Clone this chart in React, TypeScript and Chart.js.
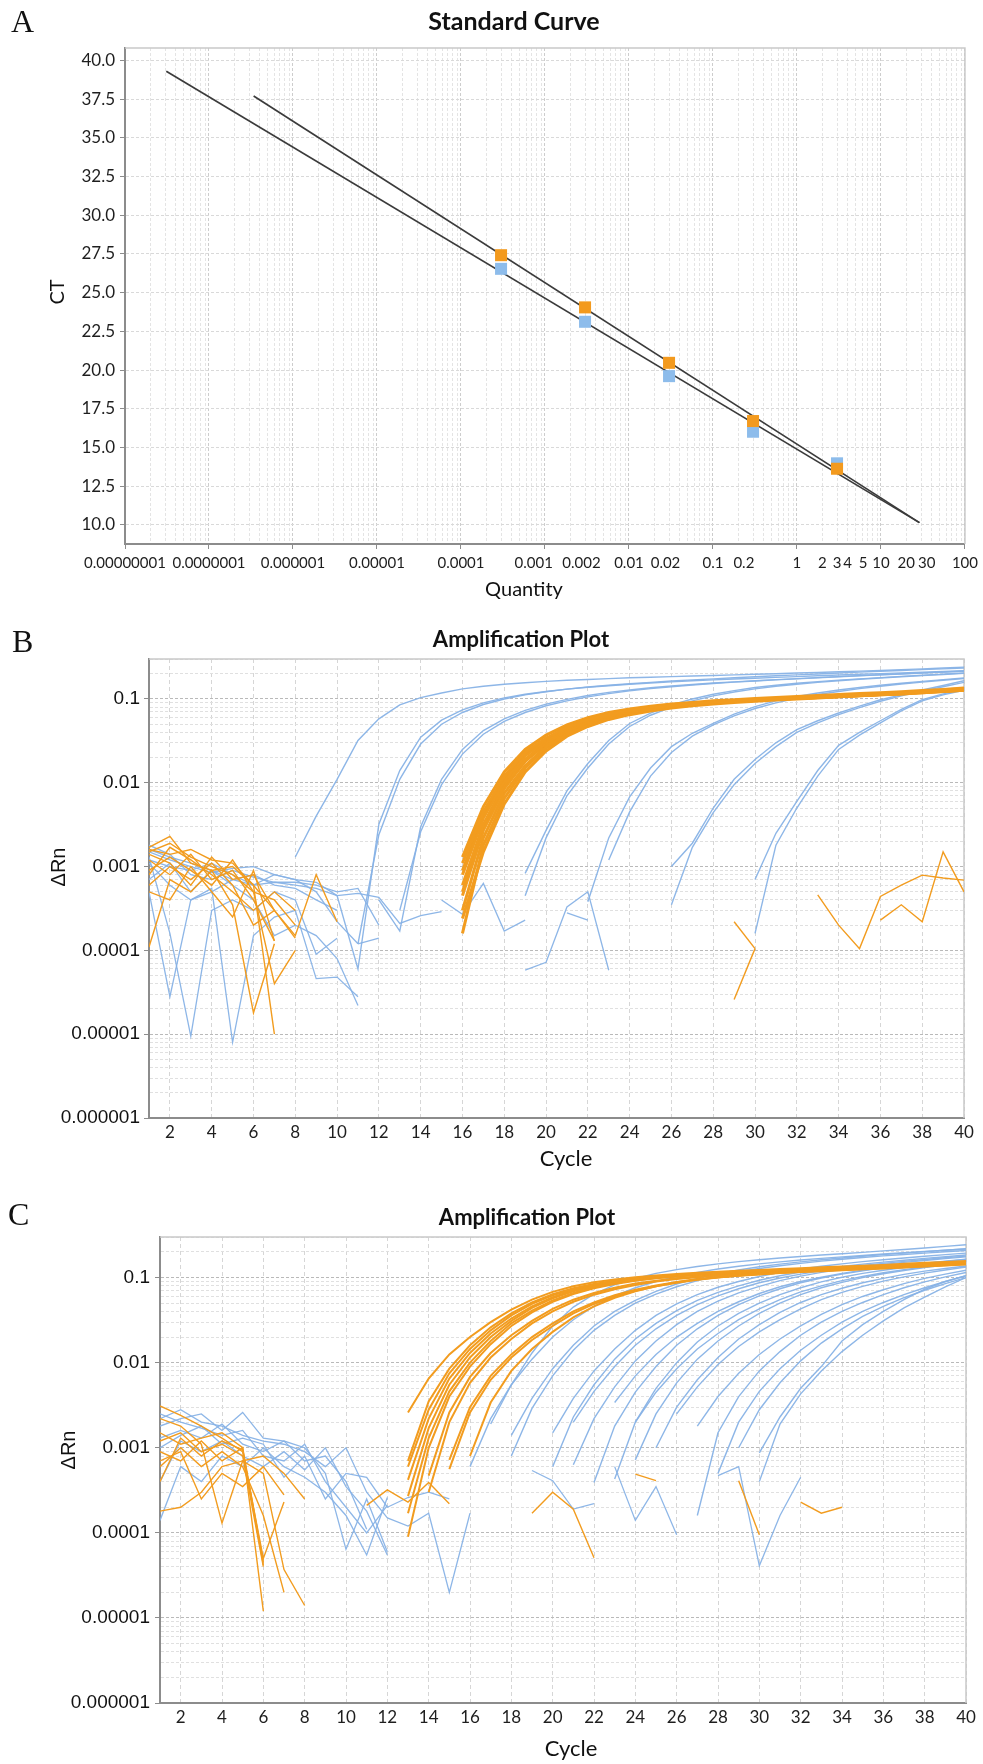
import React, { useEffect, useRef } from 'react';
import { Chart, registerables } from 'chart.js';

Chart.register(...registerables);

// ---------------- Panel A : Standard Curve ----------------
const stdQuantity = [0.0003, 0.003, 0.03, 0.3, 3];
const ctBlue = [26.54, 23.12, 19.61, 16.02, 13.98];
const ctOrange = [27.42, 24.05, 20.47, 16.71, 13.63];
const fitBlueQ = [3.1e-8, 28.7];
const fitBlueCT = [39.3, 10.15];
const fitOrangeQ = [3.4e-7, 28.7];
const fitOrangeCT = [37.7, 10.15];
const ctTicks = [10, 12.5, 15, 17.5, 20, 22.5, 25, 27.5, 30, 32.5, 35, 37.5, 40];
const quantityDecades = [-8, -7, -6, -5, -4, -3, -2, -1, 0, 1, 2];
const quantityLabelValues = [1e-8, 1e-7, 1e-6, 1e-5, 1e-4, 1e-3, 2e-3, 1e-2, 2e-2, 0.1, 0.2, 1, 2, 3, 4, 5, 10, 20, 30, 100];
const quantityLabels = ['0.00000001', '0.0000001', '0.000001', '0.00001', '0.0001', '0.001', '0.002', '0.01', '0.02', '0.1', '0.2', '1', '2', '3', '4', '5', '10', '20', '30', '100'];

// ---------------- Panels B / C : Amplification Plots ----------------
const cycleTicks = [2, 4, 6, 8, 10, 12, 14, 16, 18, 20, 22, 24, 26, 28, 30, 32, 34, 36, 38, 40];
const deltaRnDecades = [-6, -5, -4, -3, -2, -1];
const deltaRnLabelValues = [0.1, 0.01, 0.001, 0.0001, 0.00001, 0.000001];
const deltaRnLabels = ['0.1', '0.01', '0.001', '0.0001', '0.00001', '0.000001'];

// Panel B – blue amplification curves (first cycle, then ΔRn per cycle)
const bBlueStart = [8, 10, 11, 12, 13, 19, 19, 22, 23, 26, 26, 30, 30];
const bBlue = [
  [1.3e-3, 4.0e-3, 0.011, 0.032, 0.058, 0.085, 0.104, 0.118, 0.132, 0.142, 0.15, 0.156, 0.162, 0.167, 0.171, 0.175, 0.179, 0.182, 0.185, 0.188, 0.191, 0.194, 0.197, 0.2, 0.204, 0.207, 0.211, 0.215, 0.219, 0.224, 0.229, 0.234, 0.24],
  [4.5e-4, 6e-5, 3.2e-3, 0.014, 0.035, 0.056, 0.074, 0.09, 0.103, 0.114, 0.123, 0.131, 0.138, 0.144, 0.15, 0.155, 0.16, 0.165, 0.169, 0.173, 0.177, 0.181, 0.185, 0.189, 0.193, 0.197, 0.201, 0.205, 0.209, 0.213, 0.217],
  [1.2e-4, 2.4e-3, 0.011, 0.029, 0.05, 0.069, 0.086, 0.1, 0.112, 0.122, 0.131, 0.139, 0.146, 0.152, 0.158, 0.164, 0.169, 0.174, 0.179, 0.184, 0.189, 0.194, 0.199, 0.204, 0.209, 0.214, 0.219, 0.224, 0.229, 0.234],
  [4e-4, 1.7e-4, 3e-3, 0.011, 0.025, 0.042, 0.058, 0.073, 0.087, 0.099, 0.11, 0.12, 0.128, 0.136, 0.143, 0.149, 0.155, 0.16, 0.165, 0.17, 0.175, 0.18, 0.185, 0.19, 0.195, 0.2, 0.205, 0.21, 0.215],
  [3e-4, 2.6e-3, 9.5e-3, 0.022, 0.038, 0.054, 0.069, 0.083, 0.095, 0.106, 0.116, 0.125, 0.133, 0.14, 0.147, 0.153, 0.159, 0.164, 0.169, 0.174, 0.179, 0.184, 0.189, 0.194, 0.199, 0.204, 0.209, 0.214],
  [8.3e-4, 2.7e-3, 8e-3, 0.017, 0.032, 0.051, 0.068, 0.085, 0.1, 0.114, 0.126, 0.137, 0.146, 0.154, 0.161, 0.168, 0.174, 0.18, 0.186, 0.192, 0.198, 0.204],
  [4.5e-4, 2.2e-3, 7e-3, 0.015, 0.029, 0.047, 0.064, 0.08, 0.095, 0.109, 0.121, 0.132, 0.142, 0.15, 0.158, 0.165, 0.172, 0.178, 0.184, 0.19, 0.196, 0.202],
  [3.8e-4, 2.2e-3, 6.8e-3, 0.015, 0.027, 0.039, 0.051, 0.066, 0.081, 0.095, 0.107, 0.118, 0.128, 0.137, 0.146, 0.154, 0.162, 0.17, 0.178],
  [1.2e-3, 4.5e-3, 0.012, 0.023, 0.036, 0.049, 0.063, 0.077, 0.09, 0.102, 0.113, 0.123, 0.133, 0.142, 0.151, 0.159, 0.167, 0.175],
  [1e-3, 1.9e-3, 5e-3, 0.011, 0.019, 0.03, 0.043, 0.055, 0.068, 0.082, 0.098, 0.112, 0.128, 0.145, 0.165],
  [3.5e-4, 1.7e-3, 4.4e-3, 9.5e-3, 0.017, 0.027, 0.04, 0.052, 0.065, 0.079, 0.094, 0.109, 0.124, 0.14, 0.158],
  [7e-4, 2.5e-3, 6e-3, 0.014, 0.028, 0.04, 0.055, 0.075, 0.098, 0.115, 0.13],
  [1.6e-4, 1.8e-3, 5e-3, 0.012, 0.025, 0.037, 0.052, 0.072, 0.095, 0.112, 0.127],
];

// Panel B – orange amplification curves (all from cycle 16)
const bOrangeStart = [16, 16, 16, 16, 16, 16, 16, 16, 16, 16];
const bOrange = [
  [1.1e-3, 4.5e-3, 0.012, 0.023, 0.034, 0.046, 0.057, 0.066, 0.073, 0.079, 0.084, 0.088, 0.092, 0.095, 0.098, 0.1, 0.103, 0.105, 0.108, 0.111, 0.114, 0.118, 0.122, 0.126, 0.131],
  [8e-4, 3.8e-3, 0.0105, 0.021, 0.032, 0.044, 0.055, 0.064, 0.071, 0.077, 0.082, 0.087, 0.091, 0.094, 0.097, 0.1, 0.102, 0.105, 0.107, 0.11, 0.113, 0.117, 0.121, 0.125, 0.13],
  [6e-4, 3.2e-3, 9.5e-3, 0.019, 0.03, 0.042, 0.053, 0.063, 0.07, 0.076, 0.082, 0.086, 0.09, 0.094, 0.097, 0.099, 0.102, 0.104, 0.107, 0.11, 0.113, 0.116, 0.12, 0.124, 0.128],
  [4.5e-4, 2.7e-3, 8.5e-3, 0.018, 0.029, 0.041, 0.052, 0.062, 0.07, 0.077, 0.083, 0.088, 0.092, 0.095, 0.098, 0.101, 0.104, 0.107, 0.11, 0.113, 0.116, 0.119, 0.123, 0.127, 0.132],
  [3e-4, 2.2e-3, 7.5e-3, 0.016, 0.027, 0.039, 0.05, 0.06, 0.068, 0.075, 0.081, 0.086, 0.09, 0.093, 0.096, 0.099, 0.101, 0.104, 0.106, 0.109, 0.112, 0.115, 0.119, 0.123, 0.127],
  [1.6e-4, 1.8e-3, 6.5e-3, 0.015, 0.026, 0.038, 0.049, 0.059, 0.067, 0.074, 0.08, 0.085, 0.089, 0.093, 0.096, 0.099, 0.102, 0.105, 0.108, 0.111, 0.114, 0.117, 0.121, 0.125, 0.13],
  [9e-4, 4e-3, 0.011, 0.022, 0.033, 0.045, 0.056, 0.065, 0.072, 0.078, 0.083, 0.087, 0.091, 0.095, 0.098, 0.101, 0.104, 0.107, 0.109, 0.112, 0.115, 0.119, 0.123, 0.128, 0.133],
  [5e-4, 2.9e-3, 9e-3, 0.0185, 0.0295, 0.0415, 0.0525, 0.062, 0.069, 0.076, 0.081, 0.086, 0.09, 0.093, 0.096, 0.099, 0.102, 0.104, 0.107, 0.11, 0.113, 0.116, 0.12, 0.124, 0.129],
  [2.4e-4, 1.5e-3, 5.6e-3, 0.0135, 0.024, 0.036, 0.047, 0.057, 0.065, 0.072, 0.078, 0.083, 0.087, 0.091, 0.094, 0.097, 0.1, 0.103, 0.106, 0.109, 0.112, 0.115, 0.119, 0.123, 0.127],
  [1.3e-3, 5.2e-3, 0.0135, 0.025, 0.037, 0.049, 0.06, 0.069, 0.076, 0.082, 0.087, 0.091, 0.095, 0.098, 0.101, 0.104, 0.107, 0.11, 0.113, 0.116, 0.119, 0.122, 0.126, 0.13, 0.135],
];

// Panel B – background noise traces
const bBlueNoiseStart = [1, 1, 1, 1, 1, 1, 1, 15, 19, 21, 11, 1];
const bBlueNoise = [
  [1.5e-3, 1.2e-3, 1.0e-3, 8.5e-4, 9.5e-4, 1.0e-3, 8e-4, 7e-4, 6.5e-4, 4.5e-4],
  [1.8e-3, 1.4e-3, 8e-4, 7e-4, 9e-4, 7.5e-4, 6.5e-4, 6.5e-4, 6e-4, 5e-4, 5.5e-4, 2e-4],
  [1.1e-3, 6e-4, 4e-4, 5e-4, 7e-4, 6e-4, 8e-4, 7e-4, 5e-4, 2.2e-4, 1.2e-4],
  [1.3e-3, 1.6e-4, 9.5e-6, 3e-4, 4e-4, 3e-4, 5e-4, 4e-4, 9e-5, 1.4e-4],
  [5e-4, 2.8e-5, 4e-4, 5.5e-4, 8e-6, 1.5e-4, 2.5e-4, 3e-4, 4.6e-5, 4.8e-5, 2.8e-5],
  [1.2e-3, 1e-3, 9e-4, 1.1e-3, 8e-4, 6e-4, 6.5e-4, 6e-4, 5.5e-4, 4.5e-4, 4.8e-4, 4.3e-4, 2.1e-4, 2.6e-4, 2.9e-4],
  [7e-4, 1.1e-3, 5e-4, 9e-4, 6e-4, 4e-4, 1.5e-4, 2e-4, 1.5e-4, 8e-5, 2.2e-5],
  [4e-4, 2.7e-4, 6.3e-4, 1.7e-4, 2.3e-4],
  [5.8e-5, 7.2e-5, 3.3e-4, 5e-4, 5.8e-5],
  [2.8e-4, 2.3e-4],
  [1.2e-4, 1.4e-4],
  [1.6e-3, 1.3e-3, 1.1e-3, 9e-4, 7e-4, 8e-4, 6e-4, 5.5e-4, 4e-4, 3e-4],
];
const bOrangeNoiseStart = [1, 1, 1, 1, 1, 1, 1, 1, 1, 1, 29, 29, 33, 36];
const bOrangeNoise = [
  [1.5e-3, 1.9e-3, 1.3e-3, 1.0e-3, 8e-4, 5e-4, 4e-4, 2e-4],
  [1.7e-3, 2.3e-3, 1.1e-3, 9e-4, 1.0e-3, 6e-4, 3e-4],
  [1.2e-3, 8e-4, 1.4e-3, 7e-4, 9e-4, 4e-4, 1.3e-4],
  [6e-4, 1.0e-3, 7e-4, 1.1e-3, 6e-4, 2e-4, 3e-4, 1.4e-4],
  [1.1e-4, 7e-4, 5e-4, 9e-4, 3.5e-4, 1.8e-5, 1.2e-4],
  [9e-4, 1.3e-3, 9e-4, 6e-4, 1.2e-3, 5e-4, 4e-5, 1e-4],
  [1.4e-3, 1.1e-3, 6e-4, 1.3e-3, 7e-4, 8e-4, 3e-4, 1.5e-4, 8e-4, 2.2e-4],
  [5e-4, 4e-4, 1.0e-3, 5e-4, 2.5e-4, 9e-4, 1.3e-4],
  [1.6e-3, 1.4e-3, 1.6e-3, 1.2e-3, 1.1e-3, 6e-4, 1e-5],
  [8e-4, 1.7e-3, 1.2e-3, 8e-4, 5e-4, 3e-4, 5e-4, 3e-4],
  [2.2e-4, 1.05e-4],
  [2.6e-5, 1.05e-4],
  [4.6e-4, 2e-4, 1.05e-4, 4.4e-4, 6e-4, 7.9e-4, 7.3e-4, 6.9e-4],
  [2.3e-4, 3.5e-4, 2.2e-4, 1.5e-3, 5e-4],
];

// Panel C – orange amplification curves
const cOrangeStart = [13, 13, 13, 13, 13, 13, 13, 14, 14, 15, 15, 16];
const cOrange = [
  [2.6e-3, 6.5e-3, 0.0125, 0.02, 0.03, 0.042, 0.055, 0.068, 0.079, 0.088, 0.095, 0.101, 0.106, 0.11, 0.114, 0.117, 0.12, 0.123, 0.126, 0.129, 0.132, 0.135, 0.138, 0.141, 0.145, 0.149, 0.153, 0.157],
  [7e-4, 3.5e-3, 8.5e-3, 0.016, 0.026, 0.038, 0.051, 0.064, 0.075, 0.084, 0.092, 0.098, 0.103, 0.107, 0.111, 0.114, 0.117, 0.12, 0.123, 0.126, 0.129, 0.132, 0.135, 0.138, 0.141, 0.145, 0.149, 0.153],
  [6e-4, 2.8e-3, 7.5e-3, 0.0145, 0.024, 0.036, 0.049, 0.062, 0.073, 0.083, 0.091, 0.097, 0.102, 0.107, 0.111, 0.114, 0.117, 0.12, 0.123, 0.126, 0.129, 0.132, 0.135, 0.138, 0.141, 0.144, 0.148, 0.152],
  [4.2e-4, 2.2e-3, 6.5e-3, 0.013, 0.022, 0.033, 0.046, 0.059, 0.071, 0.081, 0.089, 0.096, 0.101, 0.106, 0.11, 0.113, 0.116, 0.119, 0.122, 0.125, 0.128, 0.131, 0.134, 0.137, 0.14, 0.143, 0.147, 0.151],
  [2.7e-4, 1.7e-3, 5.5e-3, 0.0115, 0.02, 0.031, 0.044, 0.057, 0.069, 0.079, 0.088, 0.095, 0.1, 0.105, 0.109, 0.112, 0.115, 0.118, 0.121, 0.124, 0.127, 0.13, 0.133, 0.136, 0.139, 0.142, 0.146, 0.15],
  [1.7e-4, 1.3e-3, 4.6e-3, 0.01, 0.018, 0.029, 0.041, 0.054, 0.066, 0.077, 0.086, 0.093, 0.099, 0.104, 0.108, 0.111, 0.114, 0.117, 0.12, 0.123, 0.126, 0.129, 0.132, 0.135, 0.138, 0.141, 0.145, 0.149],
  [9e-5, 1e-3, 4e-3, 9e-3, 0.0165, 0.027, 0.039, 0.052, 0.064, 0.075, 0.084, 0.092, 0.098, 0.103, 0.107, 0.11, 0.113, 0.116, 0.119, 0.122, 0.125, 0.128, 0.131, 0.134, 0.137, 0.14, 0.144, 0.148],
  [4.7e-4, 2.6e-3, 6.8e-3, 0.013, 0.021, 0.031, 0.043, 0.055, 0.066, 0.076, 0.085, 0.092, 0.098, 0.103, 0.107, 0.111, 0.114, 0.117, 0.12, 0.123, 0.126, 0.129, 0.132, 0.135, 0.139, 0.143, 0.147],
  [3e-4, 2e-3, 5.8e-3, 0.0115, 0.019, 0.029, 0.04, 0.052, 0.063, 0.073, 0.082, 0.09, 0.096, 0.101, 0.106, 0.11, 0.113, 0.116, 0.119, 0.122, 0.125, 0.128, 0.131, 0.134, 0.138, 0.142, 0.146],
  [7.2e-4, 3e-3, 7e-3, 0.0125, 0.02, 0.029, 0.04, 0.051, 0.062, 0.072, 0.081, 0.089, 0.096, 0.101, 0.106, 0.11, 0.114, 0.117, 0.12, 0.123, 0.126, 0.129, 0.132, 0.136, 0.14, 0.144],
  [5.6e-4, 2.6e-3, 6.3e-3, 0.0115, 0.0185, 0.027, 0.038, 0.049, 0.06, 0.07, 0.079, 0.087, 0.094, 0.1, 0.105, 0.109, 0.113, 0.116, 0.119, 0.122, 0.125, 0.128, 0.131, 0.135, 0.139, 0.143],
  [8e-4, 3.4e-3, 8e-3, 0.0145, 0.023, 0.034, 0.046, 0.058, 0.069, 0.079, 0.088, 0.095, 0.101, 0.106, 0.11, 0.114, 0.118, 0.121, 0.124, 0.127, 0.131, 0.135, 0.139, 0.143, 0.147],
];

// Panel C – blue amplification curves
const cBlueStart = [16, 17, 18, 18, 20, 20, 21, 21, 22, 23, 23, 24, 24, 25, 26, 27, 27, 28, 29, 30, 30];
const cBlue = [
  [6e-4, 2.2e-3, 5.5e-3, 0.011, 0.02, 0.032, 0.046, 0.061, 0.076, 0.09, 0.103, 0.115, 0.126, 0.136, 0.145, 0.153, 0.161, 0.168, 0.175, 0.182, 0.189, 0.196, 0.203, 0.21, 0.217],
  [1.9e-3, 5.5e-3, 0.013, 0.027, 0.045, 0.064, 0.082, 0.098, 0.112, 0.124, 0.135, 0.145, 0.154, 0.162, 0.17, 0.177, 0.184, 0.191, 0.198, 0.206, 0.214, 0.223, 0.233, 0.243],
  [1.4e-3, 3.8e-3, 8.5e-3, 0.016, 0.027, 0.04, 0.054, 0.069, 0.084, 0.098, 0.111, 0.123, 0.134, 0.144, 0.153, 0.162, 0.17, 0.178, 0.186, 0.194, 0.202, 0.21, 0.218],
  [8e-4, 2.9e-3, 7e-3, 0.014, 0.024, 0.036, 0.05, 0.064, 0.078, 0.092, 0.105, 0.117, 0.128, 0.138, 0.147, 0.156, 0.164, 0.172, 0.18, 0.187, 0.194, 0.201, 0.208],
  [6e-4, 2.3e-3, 5.5e-3, 0.011, 0.019, 0.029, 0.041, 0.054, 0.067, 0.08, 0.093, 0.105, 0.116, 0.126, 0.135, 0.144, 0.152, 0.16, 0.168, 0.176, 0.184],
  [1.5e-3, 3.8e-3, 8e-3, 0.0145, 0.024, 0.036, 0.049, 0.063, 0.077, 0.09, 0.103, 0.115, 0.126, 0.136, 0.145, 0.154, 0.162, 0.17, 0.178, 0.186, 0.194],
  [6.3e-4, 2.2e-3, 5.2e-3, 0.0105, 0.018, 0.028, 0.04, 0.053, 0.066, 0.079, 0.092, 0.104, 0.115, 0.125, 0.134, 0.143, 0.151, 0.159, 0.167, 0.175],
  [2e-3, 4.6e-3, 9e-3, 0.016, 0.025, 0.036, 0.048, 0.061, 0.074, 0.087, 0.099, 0.11, 0.12, 0.13, 0.139, 0.147, 0.155, 0.163, 0.171, 0.179],
  [3.9e-4, 1.8e-3, 4.5e-3, 9e-3, 0.016, 0.025, 0.036, 0.048, 0.061, 0.074, 0.087, 0.099, 0.11, 0.12, 0.13, 0.139, 0.147, 0.155, 0.163],
  [4.3e-4, 2e-3, 5e-3, 0.01, 0.0175, 0.027, 0.038, 0.05, 0.063, 0.076, 0.089, 0.101, 0.112, 0.122, 0.131, 0.14, 0.148, 0.156],
  [3.4e-3, 7e-3, 0.0125, 0.02, 0.029, 0.04, 0.052, 0.065, 0.078, 0.09, 0.101, 0.112, 0.122, 0.131, 0.14, 0.148, 0.156, 0.164],
  [7.2e-4, 2.5e-3, 5.8e-3, 0.011, 0.018, 0.027, 0.038, 0.05, 0.063, 0.076, 0.088, 0.1, 0.111, 0.121, 0.131, 0.14, 0.148],
  [2e-3, 4.5e-3, 8.5e-3, 0.0145, 0.022, 0.032, 0.043, 0.055, 0.068, 0.08, 0.092, 0.103, 0.114, 0.124, 0.133, 0.142, 0.15],
  [1e-3, 3e-3, 6.3e-3, 0.0115, 0.019, 0.028, 0.039, 0.051, 0.063, 0.075, 0.087, 0.098, 0.109, 0.119, 0.128, 0.137],
  [2.5e-3, 5.2e-3, 9.5e-3, 0.0155, 0.023, 0.032, 0.043, 0.055, 0.067, 0.079, 0.091, 0.102, 0.113, 0.123, 0.133],
  [1.8e-3, 4e-3, 7.5e-3, 0.0125, 0.019, 0.027, 0.037, 0.048, 0.06, 0.072, 0.085, 0.098, 0.11, 0.122],
  [1.6e-4, 1.5e-3, 4e-3, 8e-3, 0.0135, 0.021, 0.03, 0.04, 0.051, 0.063, 0.076, 0.089, 0.102, 0.115],
  [5e-4, 2e-3, 4.6e-3, 8.5e-3, 0.014, 0.021, 0.03, 0.04, 0.051, 0.063, 0.076, 0.09, 0.105],
  [1e-3, 2.8e-3, 5.8e-3, 0.0105, 0.017, 0.025, 0.035, 0.046, 0.058, 0.071, 0.085, 0.1],
  [8.7e-4, 2.3e-3, 5e-3, 9e-3, 0.018, 0.028, 0.04, 0.055, 0.073, 0.09, 0.105],
  [4e-4, 1.9e-3, 4.3e-3, 8e-3, 0.0135, 0.021, 0.031, 0.044, 0.059, 0.078, 0.1],
];

// Panel C – background noise traces
const cBlueNoiseStart = [1, 1, 1, 1, 1, 1, 1, 12, 19, 23, 28];
const cBlueNoise = [
  [2.2e-3, 2.8e-3, 2e-3, 1.8e-3, 1.4e-3, 1.2e-3, 1.1e-3, 9e-4, 6e-4, 1e-3, 3e-4, 1.5e-4],
  [1.8e-3, 2.2e-3, 2.5e-3, 1.6e-3, 2.6e-3, 1.3e-3, 1.2e-3, 7e-4, 8e-4, 4e-4, 1.1e-4],
  [1.3e-3, 1.6e-3, 1.3e-3, 1.9e-3, 1.1e-3, 9e-4, 1.2e-3, 1e-3, 5e-4, 6.4e-5, 2.5e-4, 6e-5],
  [1.4e-4, 6e-4, 4e-4, 8e-4, 6e-4, 1e-3, 6e-4, 4.5e-4, 3e-4, 1.6e-4, 5.5e-5, 2.6e-4],
  [2.5e-3, 2e-3, 1.7e-3, 1.4e-3, 1.6e-3, 8e-4, 7e-4, 1.1e-3, 4e-4, 2e-4, 1e-4, 2.1e-4],
  [4e-4, 1.2e-3, 9e-4, 1.2e-3, 8e-4, 6e-4, 9e-4, 5.5e-4, 1e-3, 3.5e-4, 1.8e-4, 5.5e-5],
  [1e-3, 1.4e-3, 1.8e-3, 1.1e-3, 1.3e-3, 1.1e-3, 4.5e-4, 8e-4, 2.5e-4, 5e-4, 4.5e-4, 2e-4, 2.6e-4, 3e-4, 2.5e-4],
  [1.5e-4, 1.2e-4, 1.7e-4, 2e-5, 1.7e-4],
  [5.4e-4, 4.1e-4, 1.9e-4, 2.2e-4],
  [6e-4, 1.4e-4, 3.5e-4, 9.5e-5],
  [4.7e-4, 6e-4, 4.1e-5, 1.6e-4, 4.5e-4],
];
const cOrangeNoiseStart = [1, 1, 1, 1, 1, 1, 1, 1, 1, 11, 19, 24, 29, 32];
const cOrangeNoise = [
  [3.1e-3, 2.4e-3, 1.8e-3, 1.3e-3, 9e-4, 5e-5, 2.3e-4],
  [1.2e-3, 1.5e-3, 9e-4, 1.1e-3, 8e-4, 4e-5],
  [9e-4, 7e-4, 1.2e-3, 7e-4, 1e-3, 1.2e-5],
  [6e-4, 1e-3, 6e-4, 9e-4, 6e-4, 1.6e-4, 2e-5],
  [1.8e-4, 2e-4, 3e-4, 6e-4, 7e-4, 5e-4, 3.7e-5, 1.4e-5],
  [1.5e-3, 1.1e-3, 1.3e-3, 1.5e-3, 1e-3, 4.5e-5],
  [2.2e-3, 1.8e-3, 1.1e-3, 1.3e-4, 7e-4, 8e-4, 5e-4, 2.5e-4],
  [7e-4, 9e-4, 2.5e-4, 5e-4, 3.5e-4, 6e-4, 2.8e-4],
  [4e-4, 1.3e-3, 8e-4, 1.2e-3, 9.5e-4, 4.2e-5],
  [2.1e-4, 3.2e-4, 2.3e-4, 3.9e-4, 2.2e-4],
  [1.7e-4, 3e-4, 1.9e-4, 5.1e-5],
  [4.9e-4, 4.1e-4],
  [4.1e-4, 9.5e-5],
  [2.3e-4, 1.7e-4, 2e-4],
];

// ---------------- styling ----------------
const BLUE = 'rgba(135,178,230,0.95)';
const ORANGE = '#F29C1F';
const BLUE_MARK = '#8DBCEB';
const ORANGE_MARK = '#F39A1E';
const AXIS = '#8c8c8c';
const EM = '\u2003';
const EN = '\u2002';

const isDecade = (v: number) => {
  const l = Math.log10(v);
  return Math.abs(l - Math.round(l)) < 1e-6;
};
const sameValue = (a: number, b: number) => Math.abs(Math.log10(a) - Math.log10(b)) < 1e-6;

function logGrid(decades: number[], maxValue: number) {
  const out: number[] = [];
  decades.forEach((d) => {
    for (let m = 1; m <= 9; m++) {
      const v = m * Math.pow(10, d);
      if (v <= maxValue * 1.0000001) out.push(v);
    }
  });
  return out;
}

const textPlugin = {
  id: 'panelText',
  afterDraw(chart: any, _args: any, opts: any) {
    const ctx = chart.ctx;
    (opts.items || []).forEach((it: any) => {
      ctx.save();
      ctx.font = it.font;
      ctx.fillStyle = it.color || '#111';
      ctx.textAlign = it.align || 'center';
      if (it.rotate) {
        ctx.translate(it.x, it.y);
        ctx.rotate(-Math.PI / 2);
        ctx.textBaseline = 'middle';
        ctx.fillText(it.text, 0, 0);
      } else {
        ctx.textBaseline = 'alphabetic';
        ctx.fillText(it.text, it.x, it.y);
      }
      ctx.restore();
    });
  },
};

const framePlugin = {
  id: 'frame',
  beforeDatasetsDraw(chart: any, _args: any, opts: any) {
    const { left, right, top, bottom } = chart.chartArea;
    const ctx = chart.ctx;
    ctx.save();
    ctx.strokeStyle = opts.color || '#c9c9c9';
    ctx.lineWidth = opts.width || 1.5;
    ctx.beginPath();
    ctx.moveTo(left, top);
    ctx.lineTo(right, top);
    ctx.lineTo(right, bottom);
    ctx.stroke();
    ctx.restore();
  },
};

function toPoints(start: number, values: (number | null)[]) {
  return values.map((v, i) => ({ x: start + i, y: v }));
}

function traceSets(starts: number[], lists: number[][], color: string, width: number) {
  return lists.map((vals, i) => ({
    type: 'line',
    data: toPoints(starts[i], vals),
    borderColor: color,
    borderWidth: width,
    pointRadius: 0,
    fill: false,
    tension: 0,
  }));
}

// ---------------- chart builders ----------------
function buildStandardCurve() {
  const quantityGrid = logGrid(quantityDecades, 100);
  // visual spacing of crowded labels (prefix, suffix)
  const nudge: Record<string, string[]> = {
    '0.001': ['', EM + EM],
    '0.002': [EM + EM, ''],
    '0.02': [EM + EM, ''],
    '0.2': [EM, ''],
    '5': [EN + EN, ''],
    '30': [EM, ''],
  };
  return {
    type: 'scatter',
    data: {
      datasets: [
        {
          data: stdQuantity.map((q, i) => ({ x: q, y: ctOrange[i] })),
          pointStyle: 'rect', pointRadius: 8.5, backgroundColor: ORANGE_MARK, borderWidth: 0,
        },
        {
          data: stdQuantity.map((q, i) => ({ x: q, y: ctBlue[i] })),
          pointStyle: 'rect', pointRadius: 8.5, backgroundColor: BLUE_MARK, borderWidth: 0,
        },
        {
          data: fitOrangeQ.map((q, i) => ({ x: q, y: fitOrangeCT[i] })),
          showLine: true, borderColor: '#3b3b3b', borderWidth: 1.7, pointRadius: 0,
        },
        {
          data: fitBlueQ.map((q, i) => ({ x: q, y: fitBlueCT[i] })),
          showLine: true, borderColor: '#3b3b3b', borderWidth: 1.7, pointRadius: 0,
        },
      ],
    },
    options: {
      animation: false, responsive: false, maintainAspectRatio: false, devicePixelRatio: 1, events: [],
      layout: { padding: { left: 0, top: 48, right: 17, bottom: 0 } },
      plugins: {
        legend: { display: false }, tooltip: { enabled: false },
        frame: { color: '#c9c9c9', width: 1.5 },
        panelText: {
          items: [
            { text: 'A', x: 11, y: 31.7, font: '32px "Liberation Serif"', align: 'left' },
            { text: 'Standard Curve', x: 514, y: 30, font: 'bold 25px Lato' },
            { text: 'CT', x: 58, y: 292, font: '20px Lato', rotate: true },
            { text: 'Quantity', x: 524, y: 596, font: '20px Lato' },
          ],
        },
      },
      scales: {
        x: {
          type: 'logarithmic', min: 1e-8, max: 100,
          afterBuildTicks: (s: any) => { s.ticks = quantityGrid.map((v) => ({ value: v })); },
          afterFit: (s: any) => { s.height = 66; },
          ticks: {
            autoSkip: false, maxRotation: 0, minRotation: 0, padding: 5, color: '#1e1e1e',
            font: { family: 'Lato', size: 15 },
            callback: (v: number) => {
              const idx = quantityLabelValues.findIndex((q) => sameValue(q, v));
              if (idx < 0) return '';
              const lab = quantityLabels[idx];
              const n = nudge[lab];
              return n ? n[0] + lab + n[1] : lab;
            },
          },
          grid: {
            color: (c: any) => (c.tick && isDecade(c.tick.value) ? '#cdcdcd' : '#e4e4e4'),
            tickColor: (c: any) => (c.tick && isDecade(c.tick.value) ? AXIS : 'rgba(0,0,0,0)'),
            tickLength: 5, lineWidth: 1,
          },
          border: { display: true, color: AXIS, width: 2, dash: [3, 2] },
        },
        y: {
          type: 'linear', min: 8.77, max: 40.8,
          afterBuildTicks: (s: any) => { s.ticks = ctTicks.map((v) => ({ value: v })); },
          afterFit: (s: any) => { s.width = 125; },
          ticks: {
            autoSkip: false, padding: 5, color: '#1e1e1e',
            font: { family: 'Lato', size: 17 },
            callback: (v: number) => Number(v).toFixed(1),
          },
          grid: { color: '#d9d9d9', tickColor: AXIS, tickLength: 5, lineWidth: 1 },
          border: { display: true, color: AXIS, width: 2, dash: [3, 2] },
        },
      },
    },
    plugins: [framePlugin, textPlugin],
  };
}

function buildAmplification(cfg: any) {
  const rnGrid = logGrid(deltaRnDecades, 0.3);
  const datasets = [
    ...traceSets(cfg.orangeStart, cfg.orange, ORANGE, cfg.orangeWidth),
    ...traceSets(cfg.orangeNoiseStart, cfg.orangeNoise, ORANGE, 1.4),
    ...traceSets(cfg.blueStart, cfg.blue, BLUE, 1.4),
    ...traceSets(cfg.blueNoiseStart, cfg.blueNoise, BLUE, 1.3),
  ];
  return {
    type: 'line',
    data: { datasets },
    options: {
      animation: false, responsive: false, maintainAspectRatio: false, devicePixelRatio: 1, events: [],
      layout: { padding: { left: 0, top: cfg.top, right: cfg.right, bottom: 0 } },
      plugins: {
        legend: { display: false }, tooltip: { enabled: false },
        frame: { color: '#c9c9c9', width: 1.5 },
        panelText: { items: cfg.texts },
      },
      scales: {
        x: {
          type: 'linear', min: 1, max: 40,
          afterBuildTicks: (s: any) => { s.ticks = cycleTicks.map((v) => ({ value: v })); },
          afterFit: (s: any) => { s.height = cfg.xHeight; },
          ticks: {
            autoSkip: false, maxRotation: 0, minRotation: 0, padding: 4, color: '#1e1e1e',
            font: { family: 'Lato', size: 17 },
            callback: (v: number) => String(v),
          },
          grid: { color: '#d6d6d6', lineWidth: 1, drawTicks: false },
          border: { display: true, color: AXIS, width: 2, dash: [4, 3] },
        },
        y: {
          type: 'logarithmic', min: 1e-6, max: 0.3,
          afterBuildTicks: (s: any) => { s.ticks = rnGrid.map((v) => ({ value: v })); },
          afterFit: (s: any) => { s.width = cfg.yWidth; },
          ticks: {
            autoSkip: false, padding: cfg.yPad, color: '#111',
            font: { family: 'Liberation Sans', size: 19 },
            callback: (v: number) => {
              const idx = deltaRnLabelValues.findIndex((q) => sameValue(q, v));
              return idx < 0 ? '' : deltaRnLabels[idx];
            },
          },
          grid: {
            color: (c: any) => (c.tick && isDecade(c.tick.value) ? '#b9b9b9' : '#e0e0e0'),
            tickColor: (c: any) => (c.tick && isDecade(c.tick.value) ? AXIS : 'rgba(0,0,0,0)'),
            tickLength: 5, lineWidth: 1,
          },
          border: { display: true, color: AXIS, width: 2, dash: [3, 2] },
        },
      },
    },
    plugins: [framePlugin, textPlugin],
  };
}

function ChartCanvas({ top, height, build }: { top: number; height: number; build: () => any }) {
  const ref = useRef<HTMLCanvasElement | null>(null);
  useEffect(() => {
    if (!ref.current) return;
    const chart = new Chart(ref.current, build());
    return () => chart.destroy();
  }, []);
  return (
    <canvas
      ref={ref}
      width={983}
      height={height}
      style={{ position: 'absolute', left: 0, top, width: 983, height, display: 'block' }}
    />
  );
}

export default function App() {
  const buildB = () =>
    buildAmplification({
      top: 49, right: 19, yWidth: 149, xHeight: 62, yPad: 4, orangeWidth: 3,
      blueStart: bBlueStart, blue: bBlue, orangeStart: bOrangeStart, orange: bOrange,
      blueNoiseStart: bBlueNoiseStart, blueNoise: bBlueNoise,
      orangeNoiseStart: bOrangeNoiseStart, orangeNoise: bOrangeNoise,
      texts: [
        { text: 'B', x: 12, y: 41.7, font: '32px "Liberation Serif"', align: 'left' },
        { text: 'Amplification Plot', x: 521, y: 36.7, font: 'bold 22px Lato' },
        { text: '\u0394Rn', x: 59, y: 257, font: '20px "Liberation Sans"', rotate: true },
        { text: 'Cycle', x: 566, y: 556, font: '22px Lato' },
      ],
    });
  const buildC = () =>
    buildAmplification({
      top: 57, right: 17, yWidth: 160, xHeight: 61, yPad: 5, orangeWidth: 2,
      blueStart: cBlueStart, blue: cBlue, orangeStart: cOrangeStart, orange: cOrange,
      blueNoiseStart: cBlueNoiseStart, blueNoise: cBlueNoise,
      orangeNoiseStart: cOrangeNoiseStart, orangeNoise: cOrangeNoise,
      texts: [
        { text: 'C', x: 8, y: 45, font: '32px "Liberation Serif"', align: 'left' },
        { text: 'Amplification Plot', x: 527, y: 45, font: 'bold 22px Lato' },
        { text: '\u0394Rn', x: 69, y: 270, font: '20px "Liberation Sans"', rotate: true },
        { text: 'Cycle', x: 571, y: 575.8, font: '22px Lato' },
      ],
    });
  return (
    <div style={{ position: 'absolute', left: 0, top: 0, width: 983, height: 1764, background: '#fff' }}>
      <ChartCanvas top={0} height={610} build={buildStandardCurve} />
      <ChartCanvas top={610} height={570} build={buildB} />
      <ChartCanvas top={1180} height={584} build={buildC} />
    </div>
  );
}
